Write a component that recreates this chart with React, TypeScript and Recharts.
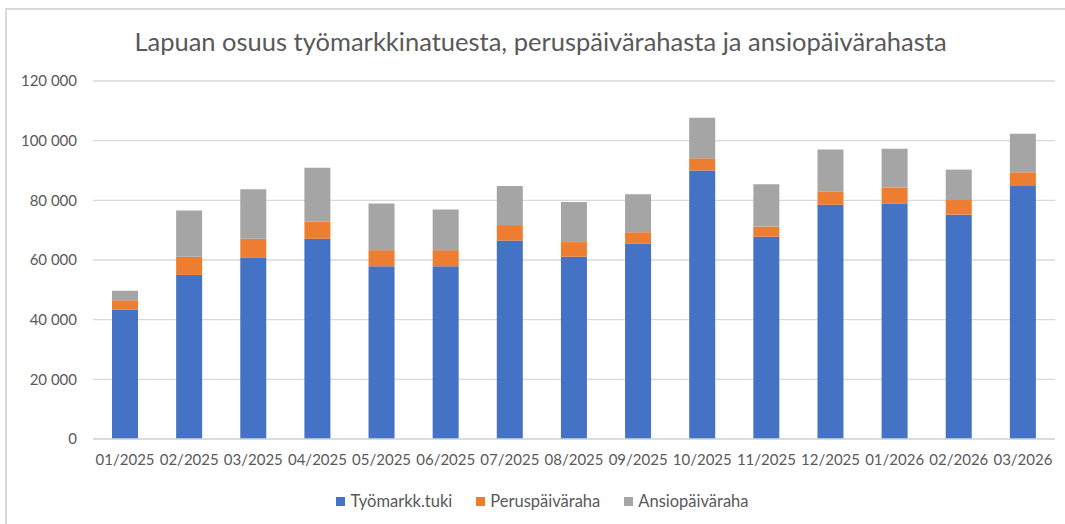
import { BarChart, Bar, XAxis, YAxis, CartesianGrid, Legend } from 'recharts';

const months = [
  '01/2025', '02/2025', '03/2025', '04/2025', '05/2025', '06/2025', '07/2025', '08/2025',
  '09/2025', '10/2025', '11/2025', '12/2025', '01/2026', '02/2026', '03/2026',
];
const tyomarkkTuki = [43400, 55000, 60700, 67100, 57900, 57900, 66500, 61100, 65500, 90000, 67800, 78500, 78900, 75200, 84800];
const peruspaivaraha = [3100, 6100, 6400, 5700, 5400, 5400, 5200, 4900, 3800, 4100, 3400, 4500, 5400, 4900, 4600];
const ansiopaivaraha = [3200, 15500, 16600, 18100, 15600, 13600, 13100, 13400, 12700, 13600, 14200, 14000, 13000, 10200, 12900];
const yTicks = [0, 20000, 40000, 60000, 80000, 100000, 120000];

const chartData = months.map((month, i) => ({
  month,
  tuki: tyomarkkTuki[i],
  perus: peruspaivaraha[i],
  ansio: ansiopaivaraha[i],
}));

const seriesConfig = [
  { dataKey: 'tuki', fill: '#4472C4', name: 'Työmarkk.tuki' },
  { dataKey: 'perus', fill: '#ED7D31', name: 'Peruspäiväraha' },
  { dataKey: 'ansio', fill: '#A5A5A5', name: 'Ansiopäiväraha' },
];

const fontFamily = 'Lato, "Open Sans", sans-serif';
const formatThousands = (v: number) => String(v).replace(/\B(?=(\d{3})+(?!\d))/g, ' ');

// legend in series order (recharts sorts by name otherwise)
const renderLegend = () => (
  <div style={{ display: 'flex', justifyContent: 'center', paddingLeft: 30, height: 20, alignItems: 'center' }}>
    {seriesConfig.map((s) => (
      <div key={s.dataKey} style={{ display: 'flex', alignItems: 'center', margin: '0 12px' }}>
        <span style={{ width: 9, height: 9, background: s.fill, marginRight: 5, display: 'inline-block' }} />
        <span style={{ color: '#595959', fontSize: 16.5, fontFamily }}>{s.name}</span>
      </div>
    ))}
  </div>
);

const App = () => {
  return (
    <div style={{ position: 'relative', width: 1065, height: 524, overflow: 'hidden', background: '#fff', fontFamily }}>
      <style>{'body{margin:0}'}</style>
      <div
        style={{
          position: 'absolute', left: 5, top: 8, width: 1080, height: 540,
          border: '2px solid #d9d9d9', boxSizing: 'border-box',
        }}
      />
      <div
        style={{
          position: 'absolute', left: 0, top: 26, width: 1081, textAlign: 'center',
          fontSize: 25.5, color: '#595959',
        }}
      >
        Lapuan osuus työmarkkinatuesta, peruspäivärahasta ja ansiopäivärahasta
      </div>
      <div style={{ position: 'absolute', left: 0, top: 0 }}>
        <BarChart
          width={1065}
          height={524}
          data={chartData}
          margin={{ top: 81, right: 10, left: 0, bottom: 30 }}
          barSize={26}
        >
          <CartesianGrid vertical={false} stroke="#d9d9d9" strokeWidth={1.3} />
          <XAxis
            dataKey="month"
            axisLine={{ stroke: '#d9d9d9', strokeWidth: 1.3 }}
            tickLine={false}
            tickMargin={9}
            interval={0}
            height={35}
            tick={{ fill: '#595959', fontSize: 15, fontFamily }}
          />
          <YAxis
            width={93}
            domain={[0, 120000]}
            ticks={yTicks}
            axisLine={false}
            tickLine={false}
            tickMargin={10}
            tickFormatter={formatThousands}
            tick={{ fill: '#595959', fontSize: 15, fontFamily }}
          />
          <Legend verticalAlign="bottom" content={renderLegend} wrapperStyle={{ bottom: 13 }} />
          {seriesConfig.map((config) => (
            <Bar
              key={config.dataKey}
              dataKey={config.dataKey}
              stackId="a"
              fill={config.fill}
              name={config.name}
              isAnimationActive={false}
            />
          ))}
        </BarChart>
      </div>
    </div>
  );
};

export default App;
